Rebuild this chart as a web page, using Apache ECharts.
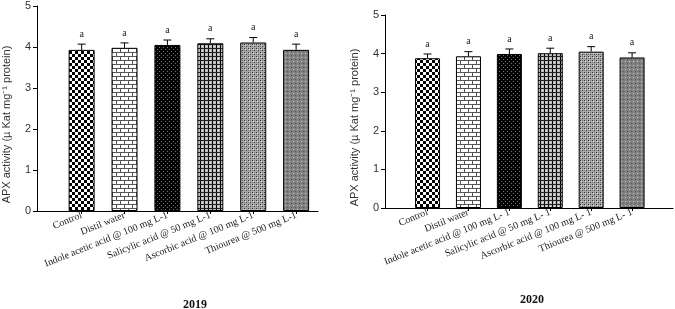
<!DOCTYPE html>
<html>
<head>
<meta charset="utf-8">
<script src="https://cdn.jsdelivr.net/npm/echarts@6/dist/echarts.min.js"></script>
<style>
html,body{margin:0;padding:0;background:#fff;}
#main{width:675px;height:309px;}
</style>
</head>
<body>
<div id="main"></div>
<script>
// treatments
var cats2019 = ['Control', 'Distil water', 'Indole acetic acid @ 100 mg L-1', 'Salicylic acid @ 50 mg L-1', 'Ascorbic acid @ 100 mg L-1', 'Thiourea @ 500 mg L-1'];
var cats2020 = ['Control', 'Distil water', 'Indole acetic acid @ 100 mg L- 1', 'Salicylic acid @ 50 mg L- 1', 'Ascorbic acid @ 100 mg L- 1', 'Thiourea @ 500 mg L- 1'];
// APX activity
var apx2019 = [3.93, 3.98, 4.05, 4.09, 4.11, 3.93];
var err2019 = [0.14, 0.12, 0.12, 0.11, 0.12, 0.14];
var apx2020 = [3.88, 3.93, 3.99, 4.01, 4.05, 3.90];
var err2020 = [0.11, 0.12, 0.13, 0.13, 0.13, 0.12];
var sig2019 = ['a', 'a', 'a', 'a', 'a', 'a'];
var sig2020 = ['a', 'a', 'a', 'a', 'a', 'a'];
var yTicks = [0, 1, 2, 3, 4, 5];

// fill patterns (like sigmaplot hatches)
function pat(w, h, bg, draw){
	var c = document.createElement('canvas');
	c.width = w; c.height = h;
	var g = c.getContext('2d');
	g.fillStyle = bg; g.fillRect(0, 0, w, h);
	draw(g);
	return {image: c, repeat: 'repeat'};
}
var patterns = [
	// checker
	pat(6, 6, '#fff', function(g){ g.fillStyle = '#000'; g.fillRect(0,0,3,3); g.fillRect(3,3,3,3); }),
	// brick
	pat(8, 8, '#fff', function(g){ g.fillStyle = '#555'; g.fillRect(0,0,8,1); g.fillRect(0,4,8,1); g.fillRect(0,0,1,4); g.fillRect(4,4,1,4); }),
	// dense black dots
	pat(4, 4, '#000', function(g){ g.fillStyle = '#777'; g.fillRect(1,1,1,1); g.fillRect(3,3,1,1); }),
	// fine grid
	pat(4, 4, '#bbb', function(g){ g.fillStyle = '#000'; g.fillRect(0,0,1,4); g.fillStyle = '#222'; g.fillRect(0,0,4,1); g.fillStyle = '#eee'; g.fillRect(2,2,1,1); }),
	// gray crosshatch dots
	pat(4, 4, '#aaa', function(g){ g.fillStyle = '#333'; g.fillRect(0,0,1,1); g.fillRect(2,2,1,1); g.fillStyle = '#777'; g.fillRect(2,0,1,1); g.fillRect(0,2,1,1); g.fillStyle = '#ddd'; g.fillRect(1,1,1,1); }),
	// gray with light dots
	pat(4, 4, '#808080', function(g){ g.fillStyle = '#c8c8c8'; g.fillRect(1,1,1,1); g.fillStyle = '#5a5a5a'; g.fillRect(3,3,1,1); })
];

var myChart = echarts.init(document.getElementById('main'), null, {renderer: 'canvas'});

function barData(vals){
	var d = [];
	for (var i = 0; i < vals.length; i++) {
		d.push({value: [i, vals[i]], itemStyle: {color: patterns[i]}});
	}
	return d;
}
function errData(vals, errs){
	var d = [];
	for (var i = 0; i < vals.length; i++) d.push([i, vals[i], errs[i]]);
	return d;
}
var sigBySeries = {};
function renderErr(params, api){
	var x = api.value(0), v = api.value(1), e = api.value(2);
	var p0 = api.coord([x, v]);
	var p1 = api.coord([x, v + e]);
	var sig = sigBySeries[params.seriesIndex][params.dataIndex];
	return {
		type: 'group',
		children: [
			{type: 'line', shape: {x1: p0[0], y1: p0[1], x2: p1[0], y2: p1[1]}, style: {stroke: '#000', lineWidth: 1}},
			{type: 'line', shape: {x1: p1[0] - 4, y1: p1[1], x2: p1[0] + 4, y2: p1[1]}, style: {stroke: '#000', lineWidth: 1}},
			{type: 'text', x: p1[0], y: p1[1] - 5, style: {text: sig, fill: '#222', font: '10px "Liberation Serif"', align: 'center', verticalAlign: 'bottom'}}
		]
	};
}

function xAxis(idx, cats, min, max){
	return {
		type: 'value', gridIndex: idx, min: min, max: max,
		axisLine: {show: true, onZero: false, lineStyle: {color: '#000', width: 1}},
		axisTick: {show: true, length: 3, customValues: [0,1,2,3,4,5], lineStyle: {color: '#000'}},
		axisLabel: {
			customValues: [0,1,2,3,4,5], rotate: 22, margin: 4,
			fontFamily: 'Liberation Serif', fontSize: 10, color: '#222',
			formatter: function(v){ return cats[Math.round(v)]; }
		},
		splitLine: {show: false}
	};
}
function yAxis(idx){
	return {
		type: 'value', gridIndex: idx, min: 0, max: 5, interval: 1,
		axisLine: {show: true, onZero: false, lineStyle: {color: '#000', width: 1}},
		axisTick: {show: true, length: 4, lineStyle: {color: '#000'}},
		axisLabel: {fontFamily: 'Liberation Sans', fontSize: 11, color: '#333', margin: 6,
			formatter: function(v){ return yTicks.indexOf(v) >= 0 ? String(v) : ''; }},
		splitLine: {show: false},
		name: 'APX activity (\u00b5 Kat mg\u207b\u00b9 protein)',
		nameLocation: 'middle', nameGap: 25,
		nameTextStyle: {fontFamily: 'Liberation Sans', fontSize: 11, color: '#333', padding: [0, 32, 0, 0]}
	};
}

var option = {
	animation: false,
	title: [
		{text: '2019', left: 190, top: 294, textAlign: 'center', textStyle: {fontFamily: 'Liberation Serif', fontSize: 12, fontWeight: 'bold', color: '#111'}},
		{text: '2020', left: 527, top: 289, textAlign: 'center', textStyle: {fontFamily: 'Liberation Serif', fontSize: 12, fontWeight: 'bold', color: '#111'}}
	],
	grid: [
		{left: 35, right: 357, top: 6, bottom: 98},
		{left: 385, right: 2, top: 15, bottom: 101}
	],
	xAxis: [xAxis(0, cats2019, -1.04, 5.51), xAxis(1, cats2020, -1.04, 6.0)],
	yAxis: [yAxis(0), yAxis(1)],
	series: [
		{type: 'bar', xAxisIndex: 0, yAxisIndex: 0, barWidth: 26, data: barData(apx2019),
			itemStyle: {borderColor: '#000', borderWidth: 1}},
		{type: 'bar', xAxisIndex: 1, yAxisIndex: 1, barWidth: 25, data: barData(apx2020),
			itemStyle: {borderColor: '#000', borderWidth: 1}},
		{type: 'custom', xAxisIndex: 0, yAxisIndex: 0, data: errData(apx2019, err2019), renderItem: renderErr, z: 5},
		{type: 'custom', xAxisIndex: 1, yAxisIndex: 1, data: errData(apx2020, err2020), renderItem: renderErr, z: 5}
	]
};
sigBySeries[2] = sig2019;
sigBySeries[3] = sig2020;
myChart.setOption(option);
</script>
</body>
</html>
